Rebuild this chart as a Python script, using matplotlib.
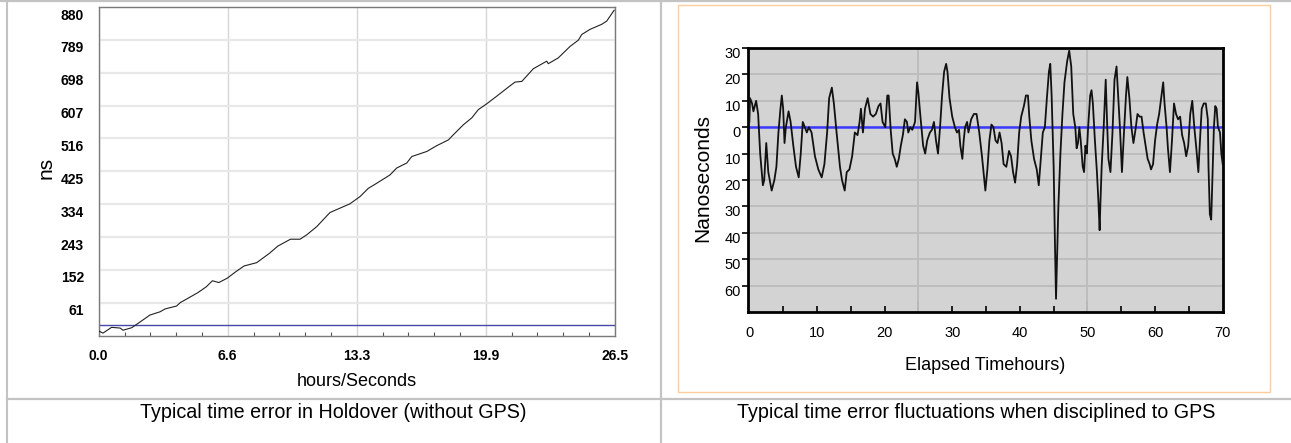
import matplotlib
matplotlib.use('Agg')
import matplotlib.pyplot as plt
import matplotlib.transforms as mtrans
from matplotlib.lines import Line2D
from matplotlib.patches import Rectangle
import numpy as np

# ================= data =================
# left panel: time error in holdover (without GPS)
HOLD_T = [0, 0.22, 0.66, 1.1, 1.25, 1.7, 2.1, 2.5, 2.63, 3.15,
          3.41, 4.0, 4.2, 4.44, 5.09, 5.52, 5.84, 6.17, 6.6, 7.04,
          7.47, 8.11, 8.77, 9.2, 9.85, 10.34, 10.68, 11.2, 11.88, 12.56,
          12.9, 13.42, 13.85, 14.28, 14.96, 15.3, 15.82, 16.08, 16.85, 17.36,
          17.96, 18.21, 18.73, 19.16, 19.5, 19.93, 20.44, 21.13, 21.38, 21.73,
          22.32, 23.01, 23.09, 23.6, 24.21, 24.63, 24.81, 25.23, 25.83, 26.09,
          26.47]
HOLD_NS = [-17, -23, -7, -9, -15, -8, 7, 22, 27, 36,
           44, 52, 62, 69, 89, 105, 122, 117, 129, 147,
           163, 172, 198, 218, 237, 237, 249, 272, 311, 327,
           335, 355, 378, 392, 415, 434, 448, 466, 480, 496,
           512, 526, 554, 573, 596, 612, 633, 662, 672, 674,
           709, 730, 723, 739, 771, 788, 804, 818, 832, 841,
           871]
HOLD_REF = 0
HOLD_XTICKS = [0, 6.625, 13.25, 19.875, 26.5]
HOLD_XTICK_LABELS = ['0.0', '6.6', '13.3', '19.9', '26.5']
HOLD_YTICKS = [61, 152, 243, 334, 425, 516, 607, 698, 789, 880]

# right panel: time error fluctuations when disciplined to GPS
GPS_T = [0.0, 0.1, 0.4, 0.6, 1.0, 1.3, 1.6, 2.0, 2.2, 2.5,
         2.8, 3.3, 3.7, 4.0, 4.3, 4.6, 4.8, 5.0, 5.2, 5.4,
         5.8, 6.1, 6.5, 6.9, 7.3, 7.6, 7.9, 8.2, 8.5, 8.8,
         9.2, 9.7, 10.2, 10.7, 11.1, 11.5, 11.8, 12.2, 12.5, 12.9,
         13.4, 13.7, 14.1, 14.4, 14.8, 15.2, 15.6, 16.0, 16.3, 16.5,
         16.8, 17.1, 17.5, 17.9, 18.3, 18.7, 19.1, 19.4, 19.7, 20.1,
         20.4, 20.6, 20.9, 21.2, 21.5, 21.8, 22.1, 22.4, 22.7, 23.0,
         23.3, 23.5, 23.8, 24.1, 24.5, 24.8, 25.0, 25.3, 25.7, 26.0,
         26.3, 26.7, 27.0, 27.3, 27.6, 27.9, 28.2, 28.5, 28.8, 29.1,
         29.3, 29.6, 30.0, 30.4, 30.7, 31.0, 31.2, 31.5, 31.7, 31.9,
         32.2, 32.4, 32.8, 33.2, 33.6, 34.0, 34.4, 34.7, 34.9, 35.2,
         35.5, 35.8, 36.1, 36.4, 36.7, 37.0, 37.3, 37.6, 38.0, 38.4,
         38.7, 39.0, 39.3, 39.6, 39.9, 40.2, 40.6, 40.9, 41.2, 41.4,
         41.7, 42.1, 42.5, 42.8, 43.1, 43.4, 43.7, 44.0, 44.3, 44.5,
         44.7, 45.0, 45.2, 45.35, 45.5, 45.7, 46.0, 46.3, 46.6, 47.0,
         47.3, 47.6, 47.9, 48.2, 48.4, 48.6, 48.8, 49.0, 49.3, 49.5,
         49.7, 49.9, 50.1, 50.4, 50.6, 50.8, 51.1, 51.4, 51.6, 51.8,
         51.9, 52.1, 52.4, 52.7, 52.9, 53.1, 53.4, 53.7, 54.0, 54.3,
         54.5, 54.8, 55.1, 55.4, 55.7, 55.9, 56.2, 56.5, 56.8, 57.1,
         57.4, 57.7, 58.0, 58.3, 58.6, 58.9, 59.2, 59.4, 59.7, 60.0,
         60.3, 60.6, 60.9, 61.2, 61.4, 61.7, 61.9, 62.2, 62.5, 62.8,
         63.1, 63.4, 63.7, 64.0, 64.3, 64.6, 64.9, 65.2, 65.5, 65.8,
         66.1, 66.4, 66.7, 66.9, 67.2, 67.5, 67.8, 67.9, 68.1, 68.3,
         68.5, 68.7, 68.9, 69.1, 69.3, 69.6, 69.8, 70.0]
GPS_NS = [2, 11, 9, 6, 10, 5, -10, -22, -20, -6,
          -17, -24, -20, -15, -2, 7, 12, 7, -6, 0,
          6, 2, -7, -15, -19, -10, 2, 0, -2, 0,
          -2, -11, -16, -19, -14, -2, 11, 15, 9, -2,
          -15, -20, -24, -17, -16, -11, -2, -3, 2, 7,
          -2, 7, 11, 5, 4, 5, 8, 9, 2, 0,
          12, 12, -1, -10, -12, -15, -12, -7, -3, 3,
          2, -2, 0, -1, 2, 17, 13, 4, -7, -10,
          -5, -2, -1, 2, -5, -10, 0, 12, 21, 24,
          21, 11, 4, 0, -2, -1, -7, -12, -5, 0,
          2, -2, 3, 5, 5, -2, -11, -19, -24, -16,
          -5, 1, 0, -5, -6, -2, -6, -14, -15, -9,
          -11, -17, -21, -14, -2, 4, 8, 12, 12, 4,
          -5, -12, -16, -22, -12, -2, 0, 11, 21, 24,
          12, -15, -45, -65, -50, -30, -10, 5, 17, 25,
          29, 23, 5, 0, -8, -6, 0, -5, -15, -17,
          -7, -10, 0, 12, 14, 9, -5, -17, -27, -39,
          -30, -15, 0, 18, 2, -12, -17, -2, 18, 23,
          14, 0, -17, -2, 12, 19, 11, 0, -6, -1,
          5, 4, 4, -2, -7, -12, -14, -16, -14, -5,
          1, 5, 11, 17, 9, 0, -8, -17, -5, 9,
          5, 3, 4, -3, -6, -11, -7, 5, 10, 0,
          -8, -17, -2, 7, 9, 9, 3, -15, -33, -35,
          -17, 0, 8, 7, 0, -2, -10, -14]
GPS_REF = 0
GPS_XTICKS = [0, 10, 20, 30, 40, 50, 60, 70]
GPS_MINOR = [5, 10, 15, 20, 25, 30, 35, 40, 45, 50, 55, 60, 65]
GPS_LONG = [25, 50]
GPS_YTICKS = [30, 20, 10, 0, -10, -20, -30, -40, -50, -60]
GPS_YTICK_LABELS = ['30', '20', '10', '0', '10', '20', '30', '40', '50', '60']
# ========================================

plt.rcParams['font.family'] = ['Liberation Sans', 'DejaVu Sans']

W, H = 1291, 443
fig = plt.figure(figsize=(W / 100, H / 100), dpi=100)


def fx(px):
    return px / W


def fy(py):
    return 1 - py / H


# ---- table frame ----
grey = '#c3c3c3'
fig.add_artist(Line2D([0, 1], [fy(1), fy(1)], color=grey, lw=1.6))
fig.add_artist(Line2D([fx(6.5), fx(6.5)], [0, 1], color=grey, lw=1.5))
fig.add_artist(Line2D([fx(660.5), fx(660.5)], [0, 1], color=grey, lw=1.6))
fig.add_artist(Line2D([fx(6.5), 1], [fy(399), fy(399)], color=grey, lw=1.6))
fig.add_artist(Rectangle((fx(678), fy(392)), fx(1270) - fx(678), fy(4.7) - fy(392),
                         transform=fig.transFigure, fill=False, ec='#ffcc99', lw=1))

# ---- left chart ----
ax1 = fig.add_axes([fx(98.7), fy(336), fx(614.7) - fx(98.7), fy(7) - fy(336)])
ax1.plot(HOLD_T, HOLD_NS, color='#222222', lw=0.8, zorder=3)
ax1.axhline(HOLD_REF, color='#4848a8', lw=1, zorder=2)
ax1.set_xlim(0, 26.5)
ax1.set_ylim(-31, 880)
ax1.set_xticks(HOLD_XTICKS)
ax1.set_xticklabels(HOLD_XTICK_LABELS, fontweight='bold', fontsize=10)
ax1.set_xticks(np.arange(0, 26.5, 1.325), minor=True)
ax1.set_yticks(HOLD_YTICKS)
ax1.set_yticklabels([str(v) for v in HOLD_YTICKS], fontweight='bold', fontsize=10)
ax1.tick_params(axis='x', which='major', length=0, pad=9)
ax1.tick_params(axis='x', which='minor', direction='in', length=3, width=0.8, color='#555555')
ax1.tick_params(axis='y', length=0, pad=10.5)
ax1.grid(axis='x', color='#d6d6d6', lw=1)
ax1.grid(axis='y', color='#e8e8e8', lw=1.6)
ax1.set_axisbelow(True)
for s in ax1.spines.values():
    s.set_color('#7a7a7a')
    s.set_linewidth(1)
offset = mtrans.ScaledTranslation(0, -0.07, fig.dpi_scale_trans)
for lbl in ax1.get_yticklabels():
    lbl.set_transform(lbl.get_transform() + offset)

fig.text(fx(46), fy(168), 'ns', rotation=90, ha='center', va='center', fontsize=15)
fig.text(fx(357), fy(381), 'hours/Seconds', ha='center', va='center', fontsize=13)
fig.text(fx(333.5), fy(412), 'Typical time error in Holdover (without GPS)',
         ha='center', va='center', fontsize=14.2)

# ---- right chart ----
ax2 = fig.add_axes([fx(748), fy(312), fx(1222.7) - fx(748), fy(48) - fy(312)])
ax2.set_facecolor('#d3d3d3')
ax2.plot(GPS_T, GPS_NS, color='#111111', lw=1.3, zorder=3)
ax2.axhline(GPS_REF, color='#3a3aff', lw=1.8, zorder=2)
for v in GPS_LONG:
    ax2.axvline(v, color='#bdbdbd', lw=1.4, zorder=1)
ax2.set_xlim(-0.2, 70)
ax2.set_ylim(-70, 30)
ax2.xaxis.remove_overlapping_locs = False
ax2.set_xticks(GPS_XTICKS)
ax2.set_xticklabels([str(v) for v in GPS_XTICKS], fontsize=10.5)
ax2.set_xticks(GPS_MINOR, minor=True)
ax2.set_yticks(GPS_YTICKS)
ax2.set_yticklabels(GPS_YTICK_LABELS, fontsize=10.5)
ax2.tick_params(axis='x', which='major', length=0, pad=10)
ax2.tick_params(axis='x', which='minor', direction='in', length=4, width=1.2, color='black')
ax2.tick_params(axis='y', direction='out', length=4, width=1.2, pad=1)
ax2.grid(axis='y', color='#bdbdbd', lw=1.4)
ax2.set_axisbelow(True)
for s in ax2.spines.values():
    s.set_color('black')
    s.set_linewidth(2)
sec = ax2.secondary_xaxis('bottom')
sec.set_xticks(GPS_LONG)
sec.tick_params(direction='in', length=8, width=1.2, labelbottom=False)
sec.spines['bottom'].set_visible(False)
offset2 = mtrans.ScaledTranslation(0, -0.045, fig.dpi_scale_trans)
for lbl in ax2.get_yticklabels():
    lbl.set_transform(lbl.get_transform() + offset2)

fig.text(fx(703), fy(178), 'Nanoseconds', rotation=90, ha='center', va='center', fontsize=15)
fig.text(fx(985), fy(366), 'Elapsed Timehours)', ha='center', va='center', fontsize=13)
fig.text(fx(976), fy(412), 'Typical time error fluctuations when disciplined to GPS',
         ha='center', va='center', fontsize=14.2)

fig.savefig('out.png', dpi=100)
